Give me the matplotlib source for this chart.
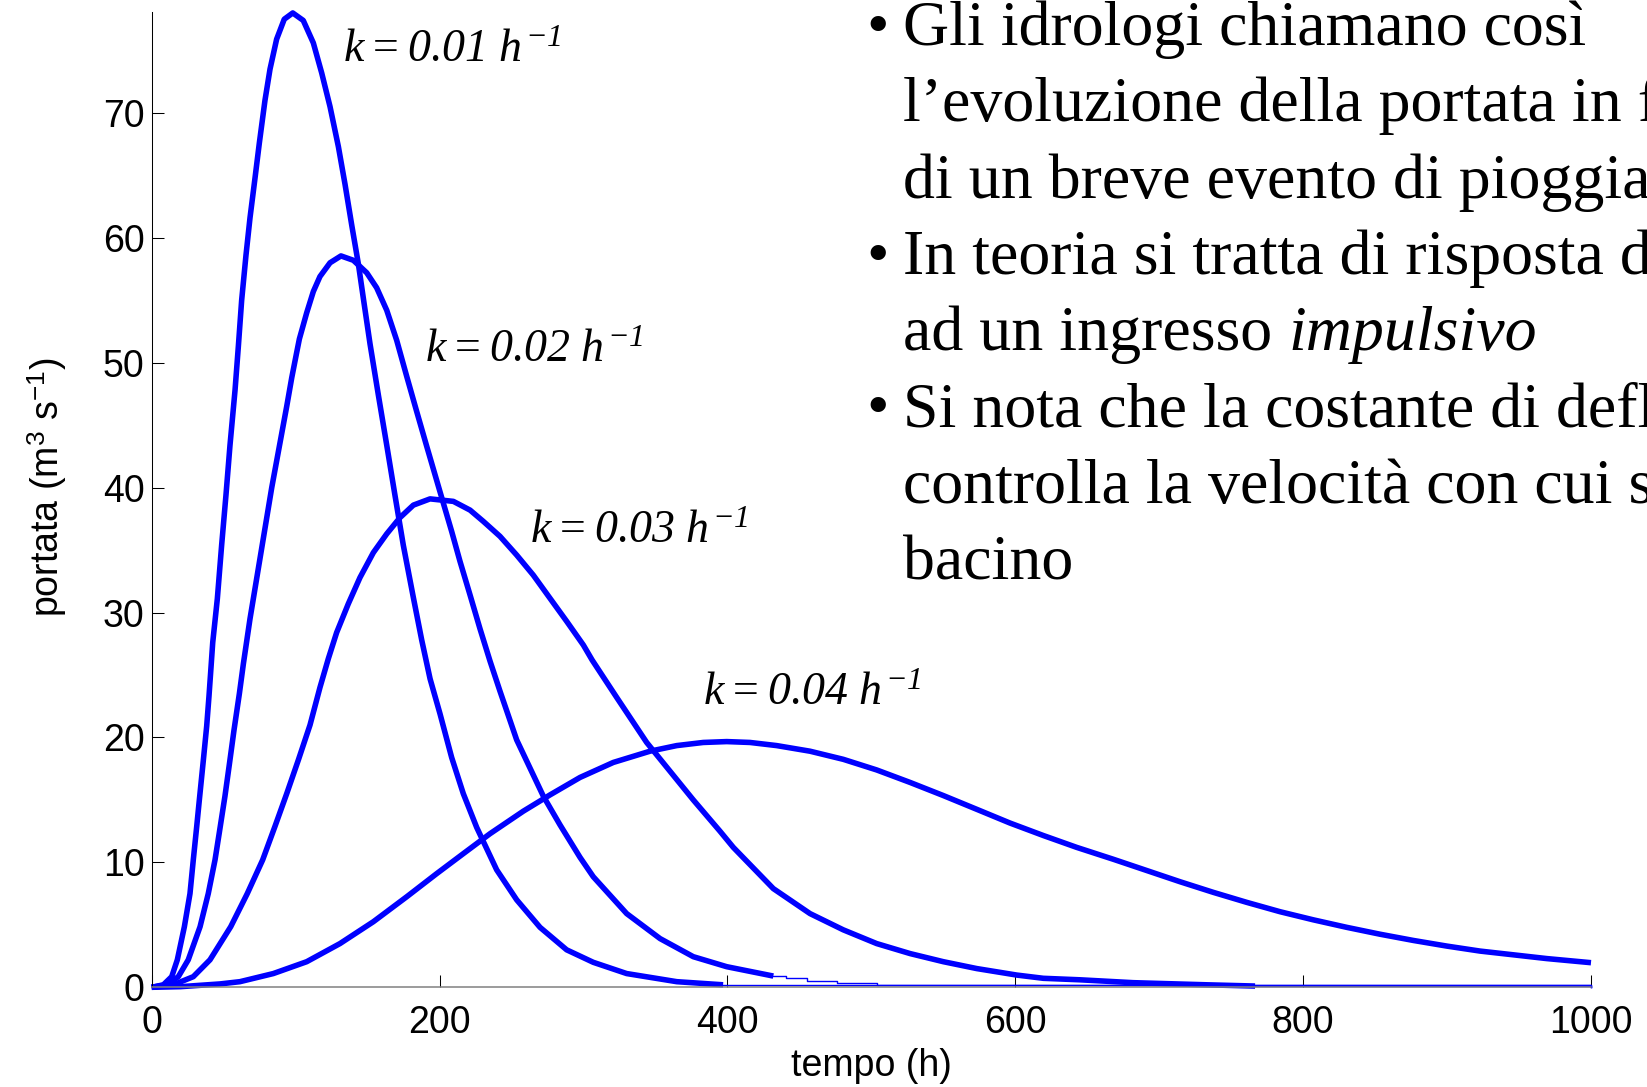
import matplotlib
matplotlib.use("Agg")
import matplotlib.pyplot as plt

W, H = 1647, 1087

# idrogrammi unitari: tempo (h) e portata (m3/s) per ogni valore di k
t_k1 = [0, 8.1, 13.9, 17.8, 22.7, 26.6, 28.9, 31.3, 33.1, 35.9, 38.2, 39.8, 41.2, 42.4, 45.6,
        48.6, 51.6, 54.4, 57.9, 60.2, 62.5, 65.5, 68.3, 71.8, 74.8, 78.7, 82.2, 86.8, 92.1, 98.0,
        105.3, 112.3, 118.1, 123.9, 129.7, 134.3, 139.0, 143.6, 147.5, 151.7, 157.5, 163.3, 169.0,
        174.8, 181.8, 187.6, 193.4, 200.3, 208.4, 216.5, 225.8, 239.7, 253.6, 269.8, 288.3, 306.8,
        330.0, 364.8, 397.0]
q_k1 = [0, 0.2, 0.85, 2.2, 4.85, 7.5, 10.2, 12.9, 15.0, 18.2, 20.9, 23.3, 25.6, 27.6, 31.1,
        35.4, 39.4, 43.4, 47.8, 51.3, 55.0, 58.6, 61.6, 64.8, 67.6, 71.0, 73.5, 75.9, 77.5, 78.0,
        77.4, 75.6, 73.2, 70.5, 67.3, 64.3, 61.0, 57.9, 54.8, 51.5, 47.4, 43.4, 39.4,
        35.4, 31.2, 27.8, 24.7, 21.9, 18.4, 15.5, 12.8, 9.4, 7.0, 4.8, 3.0, 2.0,
        1.1, 0.45, 0.2]

t_k2 = [0, 10.4, 18.5, 25.4, 33.6, 39.3, 44.0, 47.0, 50.9, 53.9, 57.2, 60.9, 63.7, 68.3, 83.4,
        93.8, 97.3, 100.7, 102.6, 107.7, 112.3, 116.9, 123.9, 131.5, 140.1, 149.4, 156.3, 163.3,
        170.2, 177.2, 184.1, 191.1, 201.5, 208.4, 214.2, 221.2, 228.1, 235.1, 242.0, 253.6, 272.1,
        283.7, 297.6, 306.8, 330.0, 353.2, 376.3, 399.5, 431.9]
q_k2 = [0, 0.2, 0.85, 2.2, 4.85, 7.5, 10.2, 12.4, 15.3, 17.8, 20.6, 23.5, 25.9, 29.5, 40.0,
        46.5, 48.8, 50.8, 51.9, 54.0, 55.7, 56.9, 58.0, 58.55, 58.2, 57.2, 56.0, 54.2,
        51.8, 48.9, 46.1, 43.3, 39.2, 36.5, 34.1, 31.4, 28.7, 26.1, 23.7, 19.8, 15.3,
        13.0, 10.4, 8.85, 5.9, 3.9, 2.45, 1.65, 0.9]

t_k3 = [0, 15.0, 28.9, 40.5, 54.9, 66.4, 77.1, 85.7, 93.8, 101.9, 110.0, 116.9, 122.7, 128.5,
        136.6, 144.7, 154.0, 163.3, 172.5, 181.8, 193.4, 209.6, 221.2, 230.4, 242.0, 253.6, 265.1,
        277.0, 288.3, 299.9, 306.0, 323.1, 343.9, 360.1, 376.3, 394.8, 404.1, 431.9, 457.4, 480.5,
        503.7, 526.9, 550.0, 573.2, 601.0, 619.5, 645.0, 682.0, 733.0, 766.6]
q_k3 = [0, 0.2, 0.85, 2.2, 4.85, 7.5, 10.2, 12.9, 15.5, 18.2, 21.0, 24.0, 26.3, 28.4,
        30.7, 32.8, 34.8, 36.3, 37.6, 38.6, 39.1, 38.9, 38.2, 37.3, 36.1, 34.6, 33.0,
        31.1, 29.3, 27.4, 26.2, 23.2, 19.6, 17.3, 15.0, 12.5, 11.2, 7.9, 5.9, 4.6,
        3.5, 2.7, 2.05, 1.5, 0.98, 0.72, 0.6, 0.37, 0.2, 0.1]

t_k4 = [0, 20, 47.5, 61.3, 84.5, 107.7, 130.8, 154.0, 177.2, 198.0, 216.5, 235.1, 258.2, 276.7,
        297.6, 320.7, 346.2, 364.8, 383.2, 399.5, 415.7, 434.2, 457.4, 480.5, 503.7, 526.9, 550.0,
        573.2, 596.3, 619.5, 642.7, 668.1, 691.3, 714.5, 737.6, 760.8, 784.0, 807.1, 830.3, 853.4,
        876.6, 899.8, 922.9, 946.1, 969.2, 1000]
q_k4 = [0, 0.05, 0.27, 0.45, 1.1, 2.05, 3.5, 5.25, 7.25, 9.1, 10.7, 12.3, 14.1, 15.4,
        16.8, 18.0, 18.9, 19.35, 19.6, 19.67, 19.6, 19.35, 18.9, 18.25, 17.4, 16.4, 15.35,
        14.25, 13.15, 12.15, 11.2, 10.25, 9.35, 8.45, 7.6, 6.8, 6.05, 5.4, 4.8, 4.25,
        3.75, 3.3, 2.9, 2.6, 2.3, 1.97]

# code quasi nulle (linea sottile)
t_tail1 = [397, 1000]
q_tail1 = [0.18, 0.02]
t_tail2 = [431.9, 441, 455, 476, 504, 1000]
q_tail2 = [0.9, 0.72, 0.53, 0.32, 0.18, 0.02]
t_tail3 = [766.6, 1000]
q_tail3 = [0.1, 0.02]

k_labels = ["0.01", "0.02", "0.03", "0.04"]
bullet_lines = [
    ("\u2022", "Gli idrologi chiamano così"),
    ("", "l\u2019evoluzione della portata in f"),
    ("", "di un breve evento di pioggia"),
    ("\u2022", "In teoria si tratta di risposta d"),
    ("", "ad un ingresso"),
    ("\u2022", "Si nota che la costante di defl"),
    ("", "controlla la velocità con cui s"),
    ("", "bacino"),
]

plt.rcParams['font.family'] = ['Liberation Sans', 'DejaVu Sans']
plt.rcParams['mathtext.fontset'] = 'custom'
plt.rcParams['mathtext.rm'] = 'Liberation Serif:italic'
plt.rcParams['mathtext.it'] = 'Liberation Serif:italic'
plt.rcParams['mathtext.sf'] = 'Liberation Sans'


def fpos(x, y):
    return x / W, 1 - y / H


fig = plt.figure(figsize=(W / 100, H / 100), dpi=100)
ax = fig.add_axes([151.7 / W, 1 - 987.3 / H, (1591 - 151.7) / W, (987.3 - 11.7) / H])

blue = (0, 0, 1)
for t, q in [(t_k1, q_k1), (t_k2, q_k2), (t_k3, q_k3), (t_k4, q_k4)]:
    ax.plot(t, q, color=blue, lw=4.0, solid_capstyle='butt', solid_joinstyle='round', clip_on=False)
for t, q in [(t_tail1, q_tail1), (t_tail2, q_tail2), (t_tail3, q_tail3)]:
    ax.plot(t, q, color=blue, lw=1.0, drawstyle='steps-post', clip_on=False)

ax.set_xlim(0, 1000)
ax.set_ylim(0, 78.1)
ax.set_xticks(range(0, 1001, 200))
ax.set_yticks(range(0, 71, 10))
ax.spines['top'].set_visible(False)
ax.spines['right'].set_visible(False)
ax.spines['left'].set_linewidth(0.75)
ax.spines['bottom'].set_linewidth(1.1)
ax.spines['bottom'].set_color('#808080')
ax.tick_params(direction='in', length=8.6, width=0.75, labelsize=27)
ax.tick_params(axis='x', pad=13)
ax.tick_params(axis='y', pad=5)

fig.text(*fpos(871, 1076), "tempo (h)", fontsize=27, ha='center', va='baseline')
fig.text(*fpos(47, 487), r"portata (m$^{\mathsf{3}}$ s$^{\mathsf{-1}}$)", fontsize=27,
         rotation=90, ha='center', va='center')

# etichette delle curve
label_pos = [(343, 62), (425, 362), (530, 543), (703, 705)]
for (x, y), k in zip(label_pos, k_labels):
    fig.text(*fpos(x, y), r"$k = %s\ h^{-1}$" % k, fontsize=33, ha='left', va='baseline')

# testo a punti
serif = ['Liberation Serif', 'DejaVu Serif']
base = 45.0
step = 76.3
italic_anchor = None
for i, (b, line) in enumerate(bullet_lines):
    y = base + i * step
    if b:
        fig.text(*fpos(866, y), b, fontsize=46, family=serif, ha='left', va='baseline')
    txt = fig.text(*fpos(903, y), line, fontsize=46, family=serif, ha='left', va='baseline')
    if line == "ad un ingresso":
        italic_anchor = (txt, y)

renderer = fig.canvas.get_renderer()
txt, y = italic_anchor
bb = txt.get_window_extent(renderer=renderer)
fig.text(bb.x1 / W + 16 / W, 1 - y / H, "impulsivo", fontsize=46, family=serif,
         style='italic', ha='left', va='baseline')

fig.savefig("out.png", dpi=100)
